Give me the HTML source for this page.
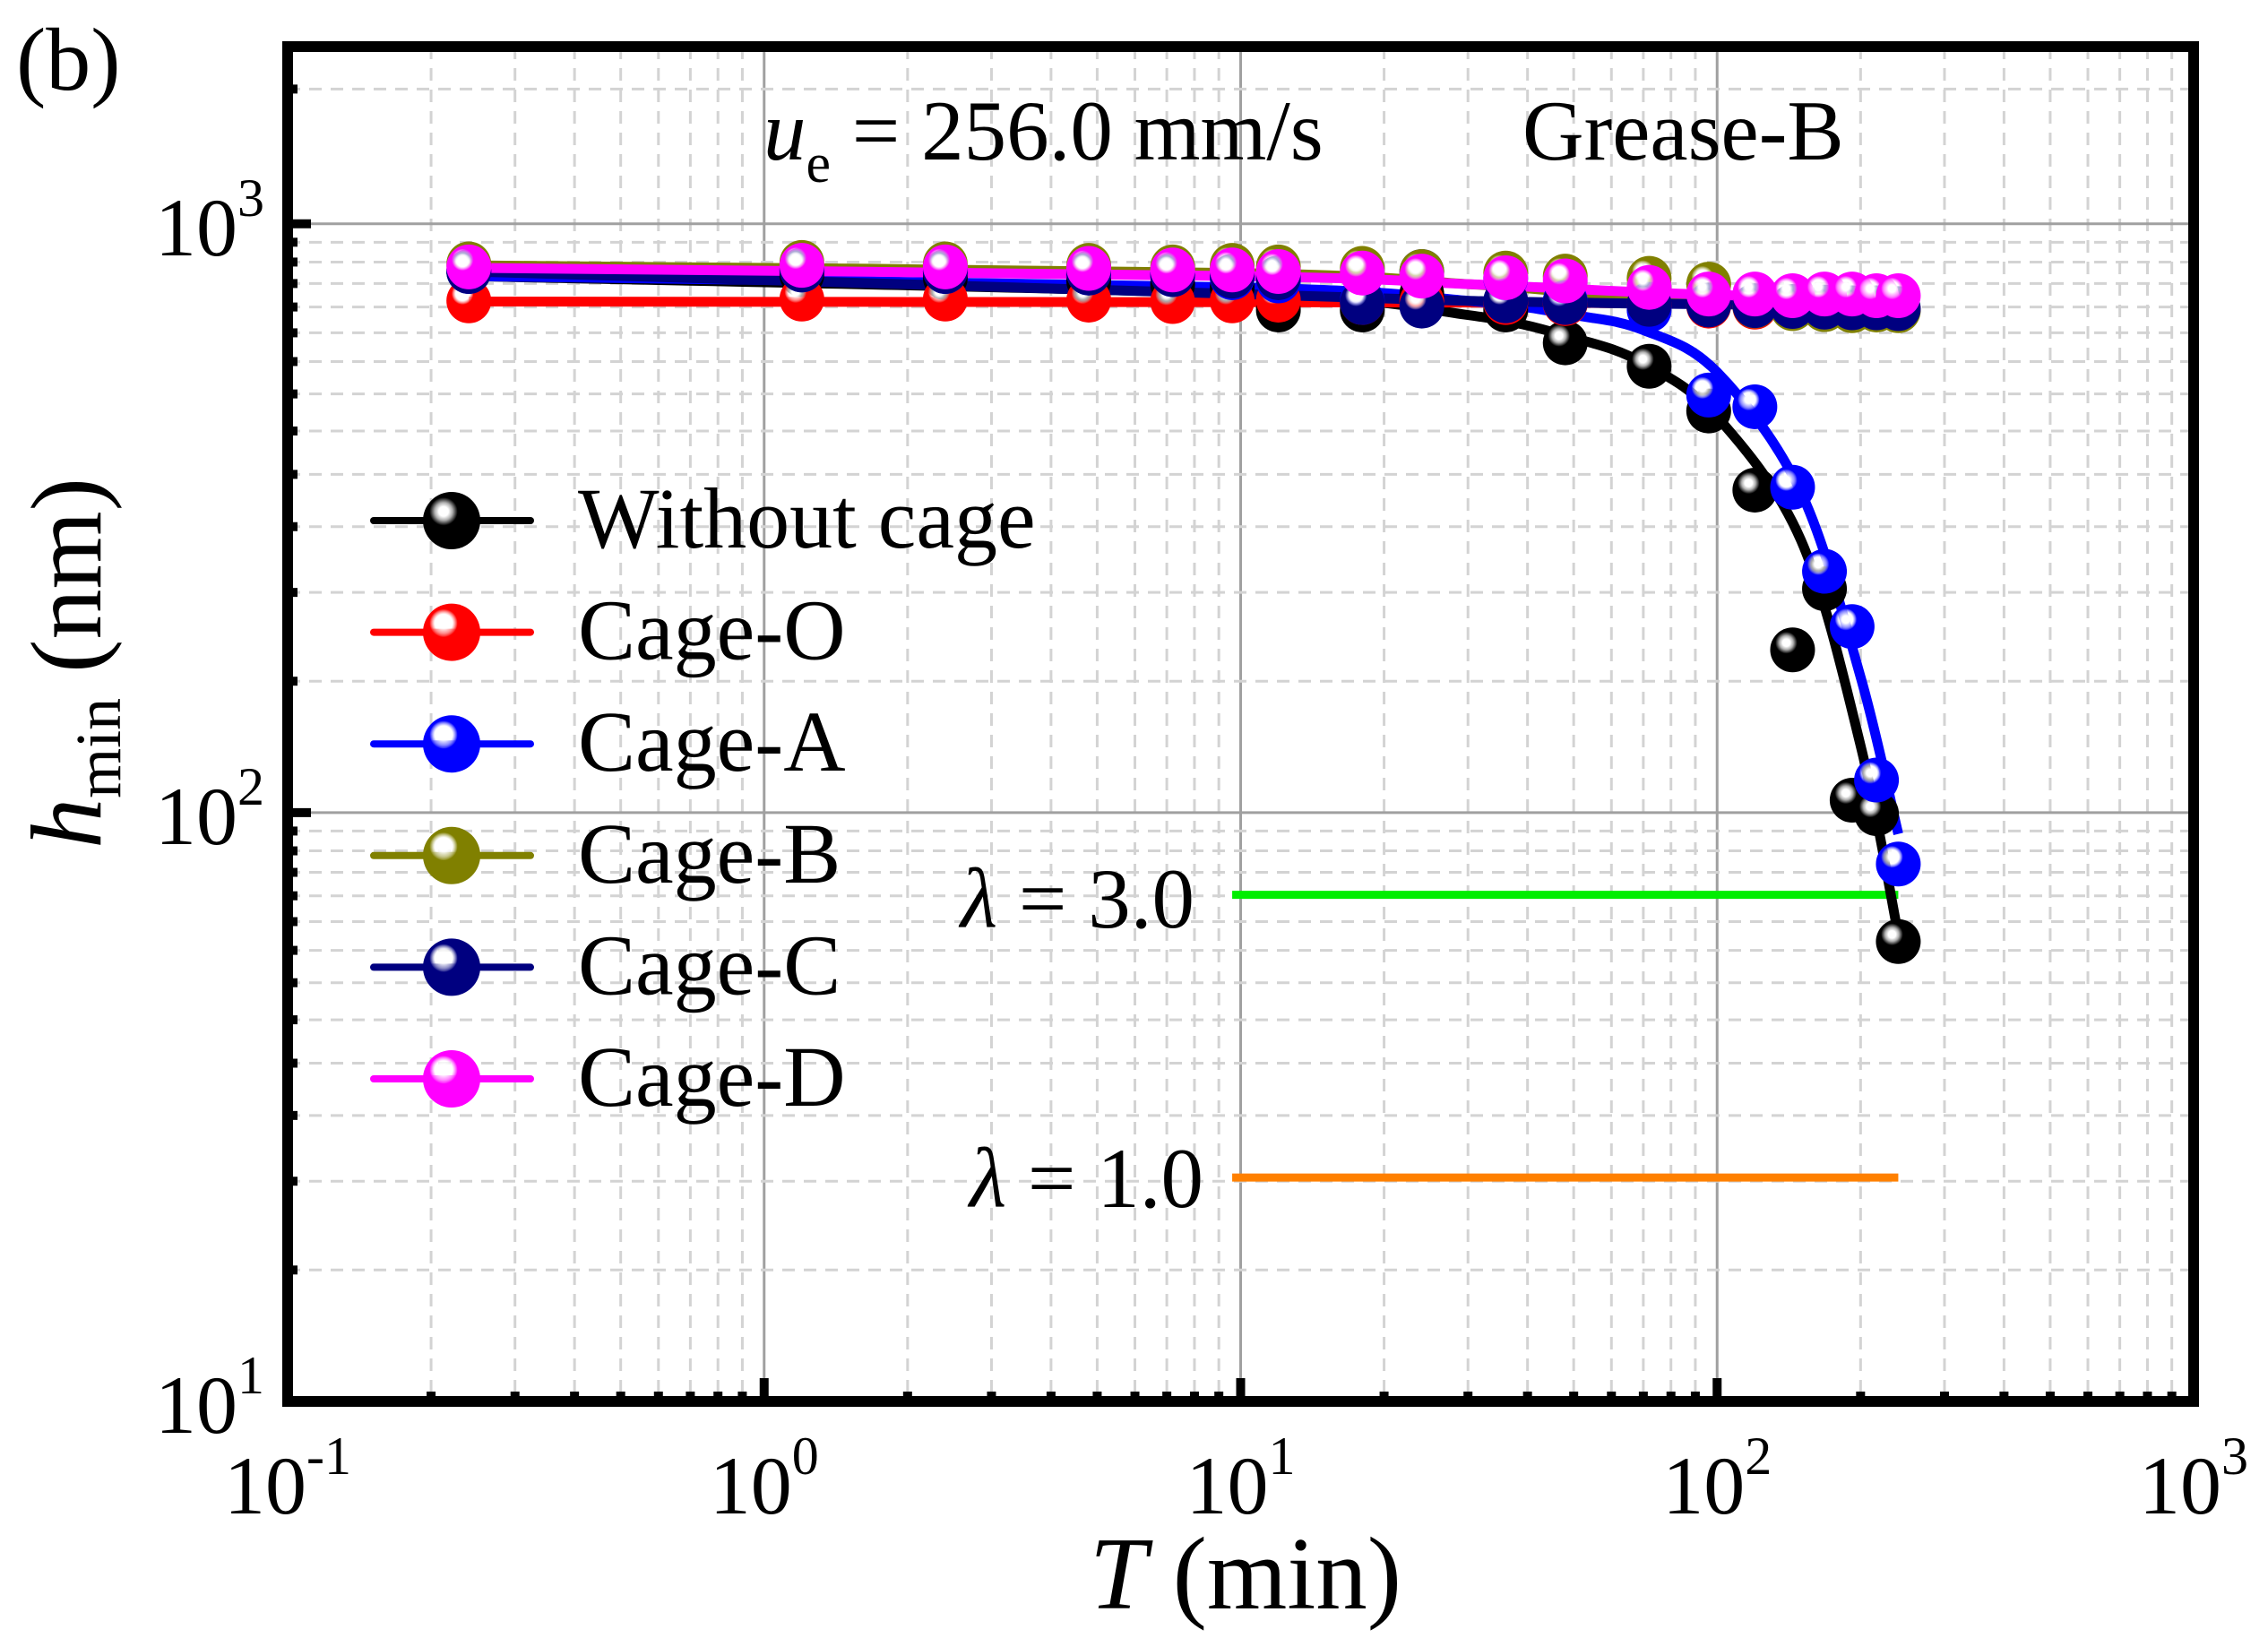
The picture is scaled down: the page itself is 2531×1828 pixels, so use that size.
<!DOCTYPE html>
<html><head><meta charset="utf-8"><style>
html,body{margin:0;padding:0;background:#fff;overflow:hidden}
svg{display:block}
text{font-family:"Liberation Serif","Times New Roman",serif;fill:#000}
</style></head>
<body>
<svg id="chart" width="2531" height="1828" viewBox="0 0 2531 1828" xmlns="http://www.w3.org/2000/svg">
<defs id="defs"></defs>
<g id="grid"></g>
<g id="lambdas"></g>
<g id="fits"></g>
<g id="marks"></g>
<g id="axes"></g>
<g id="legend"></g>
<text x="18" y="100" font-size="100">(b)</text>
<text x="852" y="178" font-size="95"><tspan font-style="italic">u</tspan><tspan font-size="62" dy="25">e</tspan><tspan dy="-25"> = 256.0 mm/s</tspan></text>
<text x="1699" y="178" font-size="95">Grease-B</text>
<text x="1072" y="1035" font-size="95"><tspan font-style="italic">λ</tspan> = 3.0</text>
<text x="1082" y="1347" font-size="95"><tspan font-style="italic">λ</tspan> = 1.0</text>
<text x="1390" y="1795" font-size="115" text-anchor="middle"><tspan font-style="italic">T</tspan> (min)</text>
<text transform="translate(112,740) rotate(-90)" font-size="112" text-anchor="middle"><tspan font-style="italic">h</tspan><tspan font-size="72" dy="22">min</tspan><tspan dy="-22"> (nm)</tspan></text>
</svg>
<script>
const T = [0.24,1.2,2.4,4.8,7.2,9.6,12,18,24,36,48,72,96,120,144,168,192,216,240];
const names = ["Without cage","Cage-O","Cage-A","Cage-B","Cage-C","Cage-D"];
const colors = ["#000000","#ff0000","#0000ff","#808000","#000080","#ff00ff"];
const hBlack  = [830,820,810,800,790,780,714,714,760,714,628,573,481,353,189,240,105,99.6,60.4];
const hRed    = [740,745,745,742,738,740,742,735,738,735,732,728,725,722,720,718,716,716,716];
const hBlue   = [830,835,830,825,820,810,800,740,830,808,740,714,512,489,357,257,207,113.6,81.8];
const hOlive  = [855,860,855,850,845,850,845,840,830,825,815,808,790,725,718,715,712,714,712];
const hNavy   = [830,835,830,825,820,815,810,735,725,740,735,730,728,726,724,722,720,720,718];
const hMag    = [845,850,845,840,835,835,830,825,815,810,800,780,760,760,755,760,760,755,755];
const series = [hBlack,hRed,hBlue,hOlive,hNavy,hMag];
const fitT = [0.24,10,30,50,70,100,150,200,240];
const fitBlack = [815,760,700,640,580,470,290,130,62];
const fitBlue  = [815,780,740,700,660,560,350,170,92];
const fitRed   = [738,736,735,734,733,732,731,730,730];
const fitOlive = [850,825,790,765,750,740,728,720,716];
const fitNavy  = [830,760,740,735,732,730,728,726,724];
const fitMag   = [842,815,790,775,765,757,752,750,748];
const fits = [fitBlack,fitRed,fitBlue,fitOlive,fitNavy,fitMag];
const lambdaVals = [72.5,24.0];
const lambdaColors = ["#00ee00","#ff8000"];
const lambdaRange = [9.6,240];
const xTickExp = [-1,0,1,2,3];
const yTickExp = [1,2,3];

const NS="http://www.w3.org/2000/svg";
const X0=321,X1=2448,Y0=1564,Y1=52;
const xLog=[-1,3], yLog=[1,Math.log10(2000)];
const xs=v=>X0+(Math.log10(v)-xLog[0])/(xLog[1]-xLog[0])*(X1-X0);
const ys=v=>Y0-(Math.log10(v)-yLog[0])/(yLog[1]-yLog[0])*(Y0-Y1);
function mk(tag,attrs,parent){const e=document.createElementNS(NS,tag);for(const k in attrs)e.setAttribute(k,attrs[k]);parent.appendChild(e);return e;}
const grid=document.getElementById('grid'),axes=document.getElementById('axes'),defs=document.getElementById('defs');

colors.forEach((c,i)=>{
  const g=mk('radialGradient',{id:'g'+i,cx:'0.36',cy:'0.34',r:'0.7'},defs);
  mk('stop',{offset:'0',  'stop-color':'#ffffff'},g);
  mk('stop',{offset:'0.12','stop-color':'#ffffff'},g);
  mk('stop',{offset:'0.22','stop-color':i==0?'#b0b0b0':'#ffffffaa'},g);
  mk('stop',{offset:'0.35','stop-color':c},g);
  mk('stop',{offset:'1',  'stop-color':c},g);
});

for(let e=-1;e<3;e++){for(let m=2;m<=9;m++){const x=xs(m*Math.pow(10,e));
  const l=mk('line',{x1:x,x2:x,y1:Y1,y2:Y0,stroke:'#d3d3d3','stroke-width':3,'stroke-dasharray':'14 10'},grid);
  
  const t=mk('line',{x1:x,x2:x,y1:Y0,y2:Y0-11,stroke:'#000','stroke-width':10},axes);
  }}
xTickExp.forEach(e=>{const x=xs(Math.pow(10,e));
  if(e>-1&&e<3){const l=mk('line',{x1:x,x2:x,y1:Y1,y2:Y0,stroke:'#a0a0a0','stroke-width':3},grid);
  }
  const t=mk('line',{x1:x,x2:x,y1:Y0,y2:Y0-26,stroke:'#000','stroke-width':10},axes);
  
  const tx=mk('text',{x:x,y:1689,'font-size':92,'text-anchor':'middle'},axes);
  
  tx.innerHTML='10<tspan font-size="60" dy="-44">'+e+'</tspan>';
});
function yMinor(vv){const y=ys(vv);
  const l=mk('line',{x1:X0,x2:X1,y1:y,y2:y,stroke:'#d3d3d3','stroke-width':3,'stroke-dasharray':'14 10'},grid);
  
  const t=mk('line',{x1:X0,x2:X0+11,y1:y,y2:y,stroke:'#000','stroke-width':10},axes);
  }
for(let e=2;e<=3;e++){for(let k=1;k<=12;k++){
  const vv=Math.pow(10,e)*(1-k*0.0694);
  if(vv<=Math.pow(10,e-1)*1.05)continue;
  yMinor(vv);}}
yMinor(1694);
yTickExp.forEach(e=>{const y=ys(Math.pow(10,e));
  if(e>1){const l=mk('line',{x1:X0,x2:X1,y1:y,y2:y,stroke:'#a0a0a0','stroke-width':3},grid);
  }
  const t=mk('line',{x1:X0,x2:X0+26,y1:y,y2:y,stroke:'#000','stroke-width':10},axes);
  
  const tx=mk('text',{x:295,y:y+35,'font-size':92,'text-anchor':'end'},axes);
  
  tx.innerHTML='10<tspan font-size="60" dy="-44">'+e+'</tspan>';
});
const fr=mk('rect',{x:X0,y:Y1,width:X1-X0,height:Y0-Y1,fill:'none',stroke:'#000','stroke-width':12},axes);


const lg=document.getElementById('lambdas');
lambdaVals.forEach((v,i)=>{const l=mk('line',{x1:xs(lambdaRange[0]),x2:xs(lambdaRange[1]),y1:ys(v),y2:ys(v),stroke:lambdaColors[i],'stroke-width':9},lg);
  });

function smooth(pts){let d='M'+pts[0][0]+','+pts[0][1];
  for(let i=0;i<pts.length-1;i++){const p0=pts[i-1]||pts[i],p1=pts[i],p2=pts[i+1],p3=pts[i+2]||p2;
    d+=' C'+(p1[0]+(p2[0]-p0[0])/6)+','+(p1[1]+(p2[1]-p0[1])/6)+' '+(p2[0]-(p3[0]-p1[0])/6)+','+(p2[1]-(p3[1]-p1[1])/6)+' '+p2[0]+','+p2[1];}
  return d;}
const fg=document.getElementById('fits'),mg=document.getElementById('marks');
series.forEach((s,i)=>{
  s.forEach((v,j)=>{const c=mk('circle',{cx:xs(T[j]),cy:ys(v),r:25,fill:'url(#g'+i+')'},mg);
    });
});
fits.forEach((f,i)=>{const p=mk('path',{d:smooth(f.map((v,j)=>[xs(fitT[j]),ys(v)])),fill:'none',stroke:colors[i],'stroke-width':11},fg);
  });

const leg=document.getElementById('legend');
names.forEach((n,i)=>{const y=581+i*124.6;
  const g=mk('g',{},leg);
  
  mk('line',{x1:417,x2:592,y1:y,y2:y,stroke:colors[i],'stroke-width':8,'stroke-linecap':'round'},g);
  mk('circle',{cx:504,cy:y,r:32,fill:'url(#g'+i+')'},g);
  const t=mk('text',{x:645,y:y+30,'font-size':96},g);t.textContent=n;
});
</script>
</body></html>
